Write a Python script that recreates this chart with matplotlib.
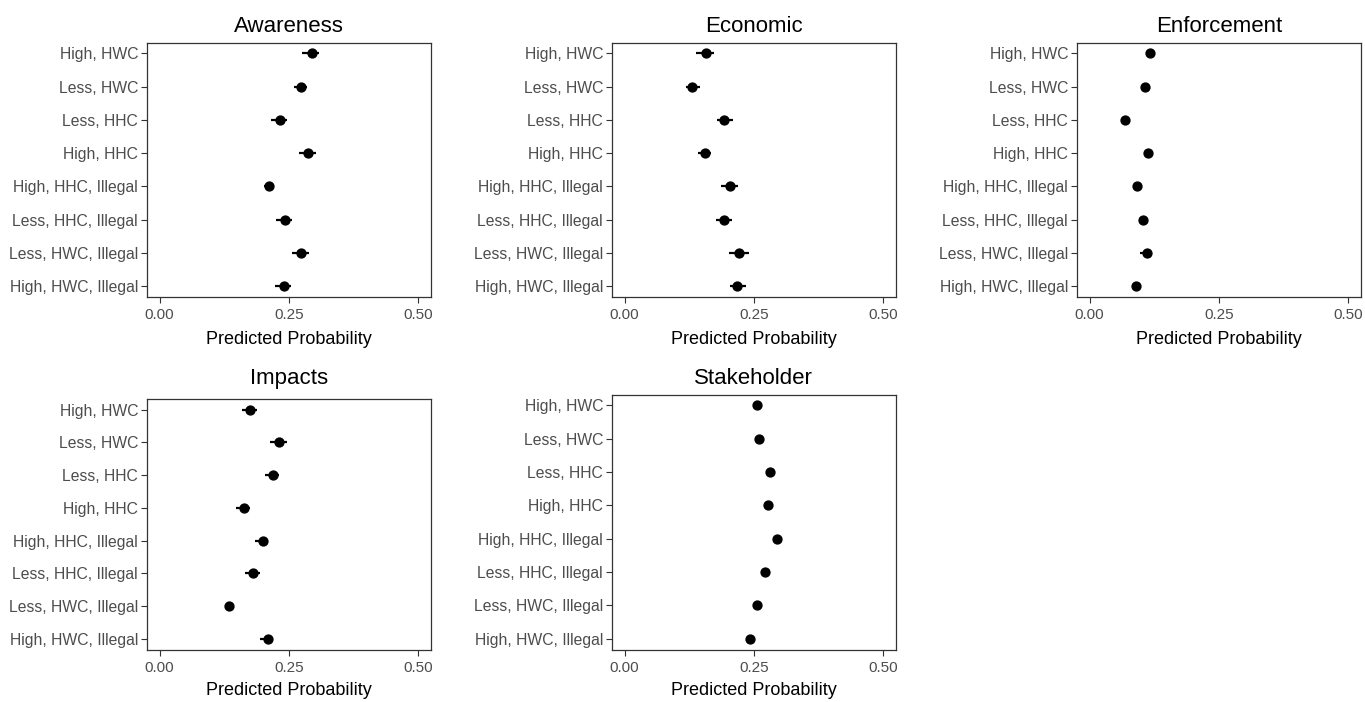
import matplotlib
matplotlib.use("Agg")
import matplotlib.pyplot as plt

plt.rcParams['font.family'] = ['Liberation Sans', 'DejaVu Sans']

categories = ["High, HWC", "Less, HWC", "Less, HHC", "High, HHC",
              "High, HHC, Illegal", "Less, HHC, Illegal", "Less, HWC, Illegal",
              "High, HWC, Illegal"]

awareness = [0.294, 0.274, 0.233, 0.287, 0.211, 0.243, 0.274, 0.240]
awareness_lo = [0.276, 0.259, 0.215, 0.270, 0.201, 0.225, 0.256, 0.224]
awareness_hi = [0.309, 0.285, 0.246, 0.302, 0.220, 0.256, 0.289, 0.254]

economic = [0.157, 0.130, 0.193, 0.155, 0.203, 0.193, 0.222, 0.218]
economic_lo = [0.139, 0.118, 0.178, 0.141, 0.186, 0.176, 0.202, 0.203]
economic_hi = [0.173, 0.145, 0.210, 0.168, 0.219, 0.208, 0.241, 0.235]

enforcement = [0.116, 0.108, 0.069, 0.113, 0.091, 0.103, 0.111, 0.089]
enforcement_lo = [0.110, 0.102, 0.064, 0.107, 0.086, 0.097, 0.097, 0.084]
enforcement_hi = [0.122, 0.113, 0.074, 0.119, 0.096, 0.109, 0.119, 0.094]

impacts = [0.175, 0.231, 0.219, 0.163, 0.200, 0.180, 0.135, 0.209]
impacts_lo = [0.159, 0.213, 0.203, 0.148, 0.184, 0.165, 0.127, 0.194]
impacts_hi = [0.188, 0.246, 0.231, 0.175, 0.210, 0.195, 0.143, 0.220]

stakeholder = [0.256, 0.259, 0.281, 0.278, 0.294, 0.272, 0.256, 0.242]
stakeholder_lo = [0.252, 0.255, 0.277, 0.274, 0.290, 0.268, 0.252, 0.238]
stakeholder_hi = [0.260, 0.263, 0.285, 0.282, 0.298, 0.276, 0.260, 0.246]

# (title, values, lo, hi, axes box in pixels, title baseline, xlabel baseline)
panels = [
    ("Awareness", awareness, awareness_lo, awareness_hi, (146.7, 42.5, 431, 297), 31.5, 343.5),
    ("Economic", economic, economic_lo, economic_hi, (611.7, 42.5, 896, 297), 31.5, 343.5),
    ("Enforcement", enforcement, enforcement_lo, enforcement_hi, (1076.7, 42.5, 1361, 297), 31.5, 343.5),
    ("Impacts", impacts, impacts_lo, impacts_hi, (146.7, 399, 431, 649.5), 384, 695),
    ("Stakeholder", stakeholder, stakeholder_lo, stakeholder_hi, (611.7, 394.5, 896, 649.5), 384, 695),
]

W, H = 1365, 702
fig = plt.figure(figsize=(W / 100, H / 100), dpi=100)
fig.patch.set_facecolor("white")

ypos = list(range(1, len(categories) + 1))
for title, vals, lo, hi, (x0, y0, x1, y1), tb, xb in panels:
    ax = fig.add_axes([x0 / W, 1 - y1 / H, (x1 - x0) / W, (y1 - y0) / H])
    xerr = [[v - l for v, l in zip(vals, lo)], [h - v for v, h in zip(vals, hi)]]
    ax.errorbar(vals, ypos, xerr=xerr, fmt='o', color='black', ecolor='black',
                elinewidth=1.6, capsize=0, markersize=6.4, zorder=3)
    ax.set_xlim(-0.025, 0.525)
    ax.set_ylim(8.33, 0.67)
    ax.set_xticks([0, 0.25, 0.5])
    ax.set_xticklabels(["0.00", "0.25", "0.50"])
    ax.set_yticks(ypos)
    ax.set_yticklabels(categories)
    ax.tick_params(axis='both', colors='#333333', labelcolor='#4D4D4D',
                   labelsize=11, length=4, width=0.8, pad=2.5)
    ax.tick_params(axis='y', labelsize=11.3, pad=2.2)
    ax.tick_params(axis='x', pad=4)
    for s in ax.spines.values():
        s.set_color('#333333')
        s.set_linewidth(0.9)
    xc = (x0 + x1) / 2 / W
    fig.text(xc, 1 - tb / H, title, fontsize=16, color='black',
             ha='center', va='baseline')
    fig.text(xc, 1 - xb / H, "Predicted Probability", fontsize=13, color='black',
             ha='center', va='baseline')

fig.savefig("out.png", dpi=100, facecolor='white')
